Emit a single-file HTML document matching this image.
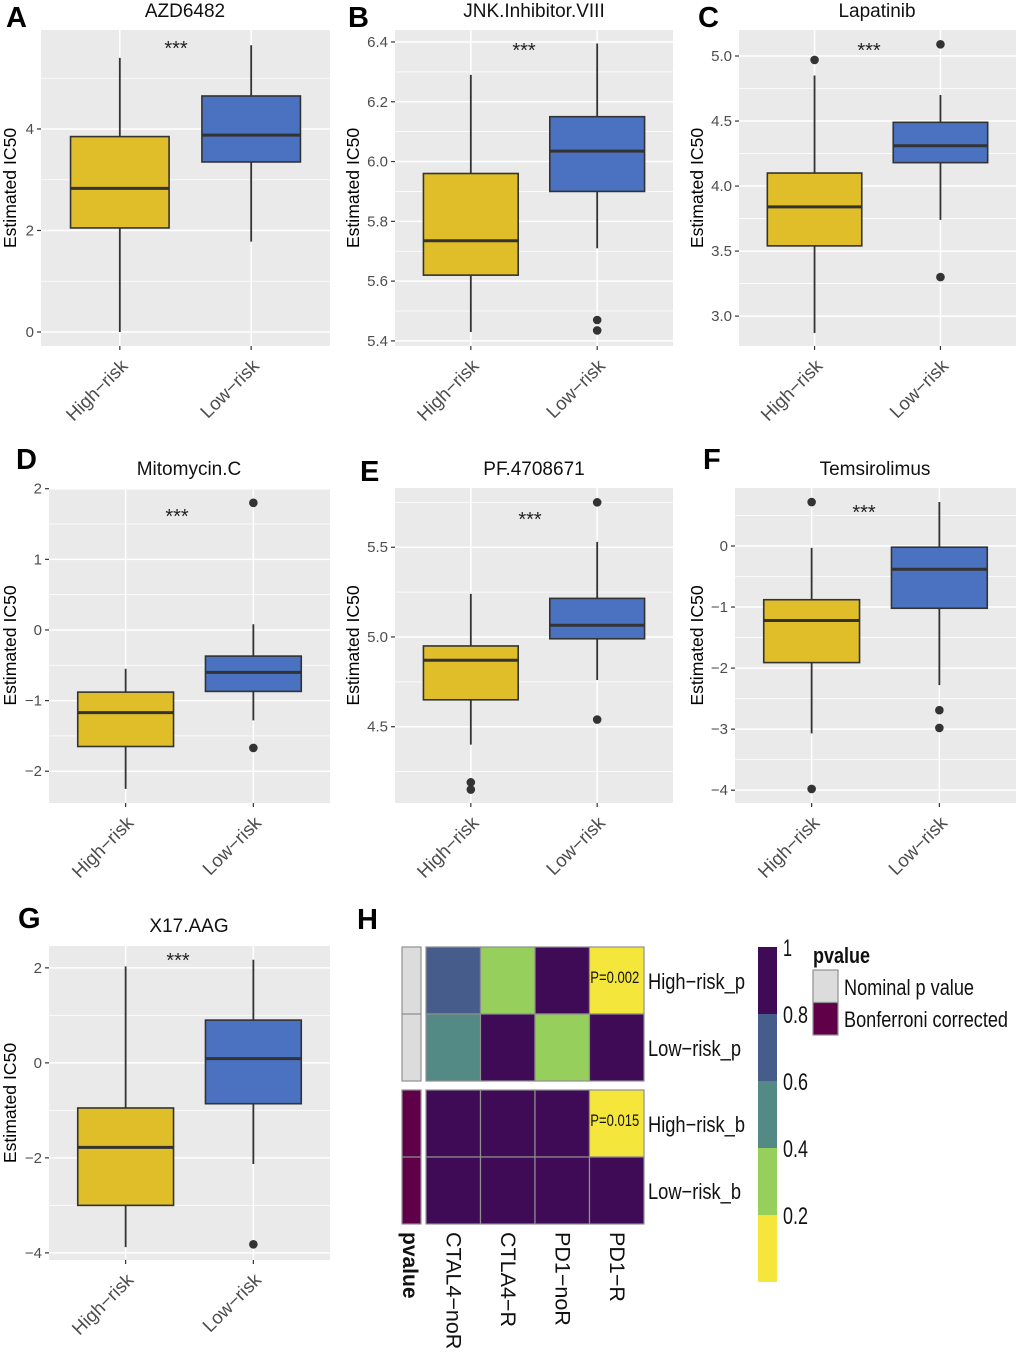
<!DOCTYPE html>
<html>
<head>
<meta charset="utf-8">
<title>Estimated IC50 box plots and p-value heatmap</title>
<style>
html,body{margin:0;padding:0;background:#fff;}
svg{display:block;font-family:"Liberation Sans",sans-serif;}
</style>
</head>
<body>
<svg id="chart" xmlns="http://www.w3.org/2000/svg" width="1020" height="1356" viewBox="0 0 1020 1356"></svg>
<script>
// ---------- Data: box plot categories ----------
const categories = ['High\u2212risk', 'Low\u2212risk'];
// Each stats array: [lower whisker, Q1, median, Q3, upper whisker]
const azdHigh = [0.0, 2.05, 2.83, 3.85, 5.4];
const azdLow = [1.78, 3.35, 3.88, 4.65, 5.65];
const azdHighOutliers = [];
const azdLowOutliers = [];
const azdTicks = [0, 2, 4];
const jnkHigh = [5.43, 5.62, 5.735, 5.96, 6.29];
const jnkLow = [5.71, 5.90, 6.035, 6.15, 6.395];
const jnkHighOutliers = [];
const jnkLowOutliers = [5.47, 5.435];
const jnkTicks = [5.4, 5.6, 5.8, 6.0, 6.2, 6.4];
const lapHigh = [2.87, 3.54, 3.84, 4.10, 4.85];
const lapLow = [3.74, 4.18, 4.31, 4.49, 4.70];
const lapHighOutliers = [4.97];
const lapLowOutliers = [5.09, 3.30];
const lapTicks = [3.0, 3.5, 4.0, 4.5, 5.0];
const mitHigh = [-2.25, -1.65, -1.17, -0.88, -0.55];
const mitLow = [-1.28, -0.87, -0.6, -0.37, 0.08];
const mitHighOutliers = [];
const mitLowOutliers = [1.8, -1.67];
const mitTicks = [-2, -1, 0, 1, 2];
const pfHigh = [4.4, 4.65, 4.87, 4.95, 5.24];
const pfLow = [4.76, 4.99, 5.065, 5.215, 5.53];
const pfHighOutliers = [4.19, 4.15];
const pfLowOutliers = [5.75, 4.54];
const pfTicks = [4.5, 5.0, 5.5];
const temHigh = [-3.07, -1.91, -1.22, -0.88, -0.03];
const temLow = [-2.28, -1.02, -0.38, -0.02, 0.72];
const temHighOutliers = [0.72, -3.98];
const temLowOutliers = [-2.69, -2.98];
const temTicks = [-4, -3, -2, -1, 0];
const xHigh = [-3.88, -3.0, -1.78, -0.95, 2.03];
const xLow = [-2.13, -0.86, 0.09, 0.9, 2.17];
const xHighOutliers = [];
const xLowOutliers = [-3.82];
const xTicks = [-4, -2, 0, 2];

// ---------- Data: heatmap ----------
const heatColumns = ['CTAL4\u2212noR', 'CTLA4\u2212R', 'PD1\u2212noR', 'PD1\u2212R'];
const nominalRows = ['High\u2212risk_p', 'Low\u2212risk_p'];
const correctedRows = ['High\u2212risk_b', 'Low\u2212risk_b'];
const nominalValues = [[0.7, 0.3, 1, 0.002], [0.5, 1, 0.3, 1]];
const correctedValues = [[1, 1, 1, 0.015], [1, 1, 1, 1]];
const colorbarLabels = ['1', '0.8', '0.6', '0.4', '0.2'];
const colorbarBins = [1, 0.8, 0.6, 0.4, 0.2];
const legendEntries = ['Nominal p value', 'Bonferroni corrected'];

// ---------- Panel layouts (styling / frame only) ----------
const panels = [
 {id:'azd6482', letter:'A', lx:6, ly:27, title:'AZD6482', tx:185, ty:17, star:[176,46], l:41, r:330, t:30, b:346, ymin:-0.276, ymax:5.95, titleX:16, high:azdHigh, low:azdLow, hiO:azdHighOutliers, loO:azdLowOutliers, ticks:azdTicks, dec:0},
 {id:'jnk-inhibitor', letter:'B', lx:348, ly:27, title:'JNK.Inhibitor.VIII', tx:534, ty:17, star:[524,48], l:395, r:673, t:30, b:346, ymin:5.383, ymax:6.44, titleX:359, high:jnkHigh, low:jnkLow, hiO:jnkHighOutliers, loO:jnkLowOutliers, ticks:jnkTicks, dec:1},
 {id:'lapatinib', letter:'C', lx:698, ly:27, title:'Lapatinib', tx:877, ty:17, star:[869,48], l:739, r:1016, t:30, b:346, ymin:2.77, ymax:5.2, titleX:703, high:lapHigh, low:lapLow, hiO:lapHighOutliers, loO:lapLowOutliers, ticks:lapTicks, dec:1},
 {id:'mitomycin', letter:'D', lx:16, ly:469, title:'Mitomycin.C', tx:189, ty:475, star:[177,514], l:49, r:330, t:488, b:803, ymin:-2.45, ymax:2.01, titleX:16, high:mitHigh, low:mitLow, hiO:mitHighOutliers, loO:mitLowOutliers, ticks:mitTicks, dec:0},
 {id:'pf4708671', letter:'E', lx:360, ly:481, title:'PF.4708671', tx:534, ty:475, star:[530,517], l:395, r:673, t:488, b:803, ymin:4.075, ymax:5.83, titleX:359, high:pfHigh, low:pfLow, hiO:pfHighOutliers, loO:pfLowOutliers, ticks:pfTicks, dec:1},
 {id:'temsirolimus', letter:'F', lx:703, ly:469, title:'Temsirolimus', tx:875, ty:475, star:[864,510], l:735, r:1016, t:488, b:803, ymin:-4.21, ymax:0.95, titleX:703, high:temHigh, low:temLow, hiO:temHighOutliers, loO:temLowOutliers, ticks:temTicks, dec:0},
 {id:'x17aag', letter:'G', lx:18, ly:928, title:'X17.AAG', tx:189, ty:932, star:[178,958], l:49, r:330, t:946, b:1260, ymin:-4.15, ymax:2.46, titleX:16, high:xHigh, low:xLow, hiO:xHighOutliers, loO:xLowOutliers, ticks:xTicks, dec:0}
];

const NS = 'http://www.w3.org/2000/svg';
const root = document.getElementById('chart');
function mk(parent, tag, attrs, text) {
  const el = document.createElementNS(NS, tag);
  for (const k in attrs) el.setAttribute(k, attrs[k]);
  if (text !== undefined) el.textContent = text;
  parent.appendChild(el);
  return el;
}
function fmt(v, dec) {
  return (v < 0 ? '\u2212' : '') + Math.abs(v).toFixed(dec);
}

const YELLOW = '#DFBE2A', BLUE = '#4A72C0', INK = '#333333';

panels.forEach(function (p) {
  const g = mk(root, 'g', {});
  
  

  const yScale = function (v) { return p.b - (v - p.ymin) / (p.ymax - p.ymin) * (p.b - p.t); };
  const unit = (p.r - p.l) / 2.2;
  const xScale = function (i) { return p.l + (i + 0.6) * unit; };

  const letter = mk(g, 'text', {x:p.lx, y:p.ly, 'font-size':29, 'font-weight':'bold', fill:'#000'}, p.letter);
  
  

  const title = mk(g, 'text', {x:p.tx, y:p.ty, 'font-size':19, 'text-anchor':'middle', fill:'#111'}, p.title);
  
  

  const bg = mk(g, 'rect', {x:p.l, y:p.t, width:p.r - p.l, height:p.b - p.t, fill:'#EAEAEA'});
  
  

  // minor grid lines, half way between major ticks
  const step = p.ticks[1] - p.ticks[0];
  for (let k = -1; k < p.ticks.length; k++) {
    const mv = p.ticks[0] + (k + 0.5) * step;
    if (mv <= p.ymin || mv >= p.ymax) continue;
    const minor = mk(g, 'line', {x1:p.l, x2:p.r, y1:yScale(mv), y2:yScale(mv), stroke:'#fff', 'stroke-width':0.8});
    
    
  }

  // major grid, ticks and tick labels
  p.ticks.forEach(function (v) {
    const yy = yScale(v);
    const grid = mk(g, 'line', {x1:p.l, x2:p.r, y1:yy, y2:yy, stroke:'#fff', 'stroke-width':1.5});
    
    
    const tick = mk(g, 'line', {x1:p.l - 4, x2:p.l, y1:yy, y2:yy, stroke:INK, 'stroke-width':1.2});
    
    
    const lab = mk(g, 'text', {x:p.l - 7, y:yy + 5, 'font-size':15, 'text-anchor':'end', fill:'#4d4d4d'}, fmt(v, p.dec));
    
    
  });

  // y axis title
  const cy = (p.t + p.b) / 2;
  const yTitle = mk(g, 'text', {x:0, y:0, 'font-size':17.6, 'text-anchor':'middle', fill:'#000', transform:'translate(' + p.titleX + ',' + cy + ') rotate(-90)'}, 'Estimated IC50');
  
  

  const stats = [p.high, p.low];
  const outs = [p.hiO, p.loO];
  const fills = [YELLOW, BLUE];
  const keys = ['high-risk', 'low-risk'];

  categories.forEach(function (cat, i) {
    const cx = xScale(i);
    const s = stats[i];
    const bw = unit * 0.75;

    const vg = mk(g, 'line', {x1:cx, x2:cx, y1:p.t, y2:p.b, stroke:'#fff', 'stroke-width':1.5});
    
    

    const xt = mk(g, 'line', {x1:cx, x2:cx, y1:p.b, y2:p.b + 4, stroke:INK, 'stroke-width':1.2});
    
    

    const xl = mk(g, 'text', {x:0, y:0, 'font-size':18.6, 'text-anchor':'end', fill:'#4d4d4d', transform:'translate(' + (cx + 9) + ',' + (p.b + 21) + ') rotate(-45)'}, cat);
    
    

    const wh = mk(g, 'line', {x1:cx, x2:cx, y1:yScale(s[0]), y2:yScale(s[4]), stroke:INK, 'stroke-width':1.8});
    
    

    const box = mk(g, 'rect', {x:cx - bw / 2, y:yScale(s[3]), width:bw, height:yScale(s[1]) - yScale(s[3]), fill:fills[i], stroke:INK, 'stroke-width':1.6});
    
    

    const med = mk(g, 'line', {x1:cx - bw / 2, x2:cx + bw / 2, y1:yScale(s[2]), y2:yScale(s[2]), stroke:INK, 'stroke-width':3});
    
    

    outs[i].forEach(function (v) {
      const o = mk(g, 'circle', {cx:cx, cy:yScale(v), r:4.3, fill:INK});
      
      
    });
  });

  const st = mk(g, 'text', {x:p.star[0], y:p.star[1] + 9, 'font-size':20, 'text-anchor':'middle', fill:'#222'}, '***');
  
  
});

// ---------- Panel H heatmap ----------
const H = mk(root, 'g', {});



const hLetter = mk(H, 'text', {x:357, y:929, 'font-size':29, 'font-weight':'bold', fill:'#000'}, 'H');



const binColors = ['#F5E63C', '#96CF5C', '#538A85', '#465C8A', '#3F0A56'];
const cellColor = function (v) {
  return binColors[Math.min(4, Math.floor(v / 0.2))];
};
const heatLeft = 426, colW = 54.5, rowH = 67;
const GRID = '#8f8f8f';

function drawBlock(values, rows, top, annotColor, annotName) {
  const a = mk(H, 'rect', {x:402, y:top, width:19, height:rowH * 2, fill:annotColor, stroke:GRID, 'stroke-width':1.2});
  
  
  const sep = mk(H, 'line', {x1:402, x2:421, y1:top + rowH, y2:top + rowH, stroke:GRID, 'stroke-width':1.2});
  
  
  values.forEach(function (row, r) {
    row.forEach(function (v, c) {
      const cell = mk(H, 'rect', {x:heatLeft + c * colW, y:top + r * rowH, width:colW, height:rowH, fill:cellColor(v), stroke:GRID, 'stroke-width':1.2});
      
      
      if (v < 0.2) {
        const t = mk(H, 'text', {x:heatLeft + (c + 0.5) * colW - 2, y:top + r * rowH + 36, 'font-size':17, 'text-anchor':'middle', fill:'#111', textLength:49, lengthAdjust:'spacingAndGlyphs'}, 'P=' + v.toFixed(3));
        
        
      }
    });
    const lab = mk(H, 'text', {x:648, y:top + r * rowH + 42, 'font-size':22, fill:'#111', textLength:r === 0 ? 97 : 93, lengthAdjust:'spacingAndGlyphs'}, rows[r]);
    
    
  });
}
drawBlock(nominalValues, nominalRows, 947, '#DCDCDC', 'annotation-nominal');
drawBlock(correctedValues, correctedRows, 1090, '#5F0048', 'annotation-corrected');

heatColumns.forEach(function (name, c) {
  const t = mk(H, 'text', {x:0, y:0, 'font-size':21.5, fill:'#111', transform:'translate(' + (heatLeft + (c + 0.5) * colW - 7) + ',1232) rotate(90)'}, name);
  
  
});
const pvalCol = mk(H, 'text', {x:0, y:0, 'font-size':21, 'font-weight':'bold', fill:'#111', transform:'translate(403,1232) rotate(90)'}, 'pvalue');



// colorbar
colorbarBins.forEach(function (v, i) {
  const seg = mk(H, 'rect', {x:758, y:947 + i * rowH, width:19, height:rowH, fill:cellColor(v - 0.001)});
  
  
});
colorbarLabels.forEach(function (label, i) {
  const t = mk(H, 'text', {x:783, y:956 + i * rowH, 'font-size':24, fill:'#111', textLength:label.length === 1 ? 9 : 25, lengthAdjust:'spacingAndGlyphs'}, label);
  
  
});

// legend
const legTitle = mk(H, 'text', {x:813, y:963, 'font-size':22, 'font-weight':'bold', fill:'#111', textLength:57, lengthAdjust:'spacingAndGlyphs'}, 'pvalue');


const legendColors = ['#DCDCDC', '#5F0048'];
const legendWidths = [130, 164];
legendEntries.forEach(function (name, i) {
  const sw = mk(H, 'rect', {x:813, y:970 + i * 32.5, width:25, height:32.5, fill:legendColors[i], stroke:GRID, 'stroke-width':1.2});
  
  
  const t = mk(H, 'text', {x:844, y:995 + i * 32, 'font-size':22.5, fill:'#111', textLength:legendWidths[i], lengthAdjust:'spacingAndGlyphs'}, name);
  
  
});
</script>
</body>
</html>
